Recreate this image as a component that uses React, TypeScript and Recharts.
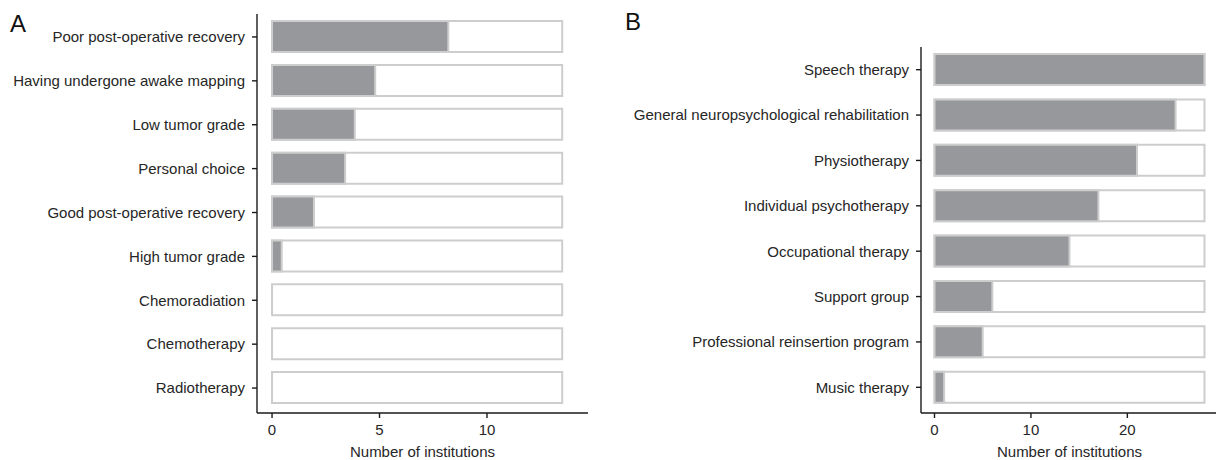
import React from "react";
import { Bar, BarChart, XAxis, YAxis } from "recharts";

// Panel A: reasons for referral
const reasonLabels = [
  "Poor post-operative recovery",
  "Having undergone awake mapping",
  "Low tumor grade",
  "Personal choice",
  "Good post-operative recovery",
  "High tumor grade",
  "Chemoradiation",
  "Chemotherapy",
  "Radiotherapy",
];
const reasonCounts = [8.2, 4.8, 3.85, 3.4, 1.95, 0.45, 0, 0, 0];
const reasonTotal = 13.5;
const reasonTicks = [0, 5, 10];

// Panel B: rehabilitation offered
const therapyLabels = [
  "Speech therapy",
  "General neuropsychological rehabilitation",
  "Physiotherapy",
  "Individual psychotherapy",
  "Occupational therapy",
  "Support group",
  "Professional reinsertion program",
  "Music therapy",
];
const therapyCounts = [28, 25, 21, 17, 14, 6, 5, 1];
const therapyTotal = 28;
const therapyTicks = [0, 10, 20];

const FONT = '"Liberation Sans", Arial, Helvetica, sans-serif';
const TEXT = "#262626";
const AXIS = "#1a1a1a";
const FILL = "#97989c";
const OUTLINE = "#cdcdcd";

interface PanelProps {
  labels: string[];
  counts: number[];
  total: number;
  ticks: number[];
  domain: [number, number];
  width: number;
  axisWidth: number;
  top: number;
  right: number;
  pad: { top: number; bottom: number };
}

function Panel({ labels, counts, total, ticks, domain, width, axisWidth, top, right, pad }: PanelProps) {
  const data = labels.map((label, i) => ({ label, value: counts[i], total }));
  const tickStyle = { fontSize: 15, fill: TEXT, fontFamily: FONT };
  return (
    <BarChart
      width={width}
      height={460}
      layout="vertical"
      data={data}
      margin={{ top, right, left: 0, bottom: 2 }}
    >
      <XAxis
        type="number"
        domain={domain}
        ticks={ticks}
        allowDataOverflow
        height={45}
        tick={tickStyle}
        tickSize={5}
        tickMargin={6}
        axisLine={{ stroke: AXIS, strokeWidth: 1.4 }}
        tickLine={{ stroke: AXIS, strokeWidth: 1.4 }}
        label={{
          value: "Number of institutions",
          position: "insideBottom",
          offset: 1,
          style: { fontSize: 15, fill: TEXT, fontFamily: FONT },
        }}
      />
      <YAxis
        yAxisId="main"
        type="category"
        dataKey="label"
        width={axisWidth}
        padding={pad}
        tick={tickStyle}
        tickSize={5}
        tickMargin={7}
        interval={0}
        axisLine={{ stroke: AXIS, strokeWidth: 1.4 }}
        tickLine={{ stroke: AXIS, strokeWidth: 1.4 }}
      />
      <YAxis yAxisId="bg" type="category" dataKey="label" hide width={0} padding={pad} />
      <Bar
        yAxisId="bg"
        dataKey="total"
        barSize={31}
        fill="#ffffff"
        stroke={OUTLINE}
        strokeWidth={2}
        isAnimationActive={false}
      />
      <Bar
        yAxisId="main"
        dataKey="value"
        barSize={31}
        fill={FILL}
        stroke={OUTLINE}
        strokeWidth={2}
        isAnimationActive={false}
      />
    </BarChart>
  );
}

export default function App() {
  return (
    <div
      style={{
        position: "absolute",
        left: 0,
        top: 0,
        width: 1216,
        height: 460,
        overflow: "hidden",
        background: "#fff",
        fontFamily: FONT,
      }}
    >
      <div style={{ position: "absolute", left: 0, top: 0 }}>
        <Panel
          labels={reasonLabels}
          counts={reasonCounts}
          total={reasonTotal}
          ticks={reasonTicks}
          domain={[-0.7, 14.7]}
          width={600}
          axisWidth={257}
          top={14}
          right={12}
          pad={{ top: 1, bottom: 3 }}
        />
      </div>
      <div style={{ position: "absolute", left: 600, top: 0 }}>
        <Panel
          labels={therapyLabels}
          counts={therapyCounts}
          total={therapyTotal}
          ticks={therapyTicks}
          domain={[-1.4, 29.4]}
          width={618}
          axisWidth={321}
          top={47}
          right={0}
          pad={{ top: 0, bottom: 3 }}
        />
      </div>
      <div
        style={{ position: "absolute", left: 10, top: 12, fontSize: 24, lineHeight: 1, color: "#111" }}
      >
        A
      </div>
      <div
        style={{ position: "absolute", left: 625, top: 10, fontSize: 24, lineHeight: 1, color: "#111" }}
      >
        B
      </div>
    </div>
  );
}
